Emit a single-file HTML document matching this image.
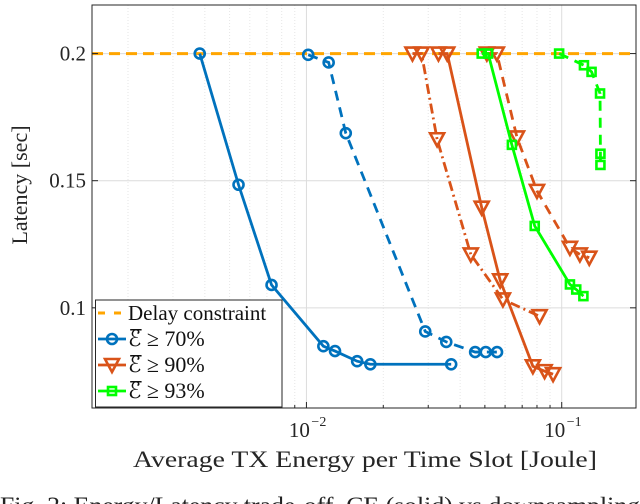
<!DOCTYPE html>
<html><head><meta charset="utf-8"><style>
body{margin:0;background:#fff;}
svg{display:block;font-family:"Liberation Serif",serif;}
</style></head><body>
<svg id="chart" width="640" height="504" viewBox="0 0 640 504">
<rect x="0" y="0" width="640" height="504" fill="#fff"/>
<g id="grid"></g>
<g id="series"></g>
<rect x="92" y="5" width="544" height="403" fill="none" stroke="#262626" stroke-width="1"/>
<g id="ticks"></g>
<text x="27" y="185" transform="rotate(-90 27 185)" text-anchor="middle" font-size="22" fill="#262626">Latency [sec]</text>
<text x="133" y="467" textLength="464" lengthAdjust="spacingAndGlyphs" font-size="23" fill="#262626">Average TX Energy per Time Slot [Joule]</text>
<text x="0" y="513" textLength="640" lengthAdjust="spacingAndGlyphs" font-size="23" fill="#222">Fig. 2: Energy/Latency trade-off, CE (solid) vs downsampling</text>
<g id="legend"></g>
</svg>
<script>
const NS='http://www.w3.org/2000/svg';
const xLog=[-2.84,-0.709];
const yLim=[0.0606,0.2191];
const yTicks=[0.1,0.15,0.2];
const yTickLabels=['0.1','0.15','0.2'];
const xTicks=[-2,-1];
const xTickLabels=['10','10'];
const xTickExps=['−2','−1'];
const constraint=0.2;
const blueSolidX=[0.00382,0.00542,0.0073,0.01165,0.01294,0.0158,0.0178,0.0369];
const blueSolidY=[0.2,0.1484,0.109,0.0849,0.083,0.079,0.0778,0.0778];
const blueDashX=[0.01016,0.01222,0.01426,0.0292,0.0353,0.0458,0.0504,0.0558];
const blueDashY=[0.1995,0.1965,0.1687,0.0907,0.0866,0.0826,0.0826,0.0826];
const orangeSolidX=[0.0329,0.0356,0.0486,0.0574,0.0771,0.0857,0.0925];
const orangeSolidY=[0.2,0.2,0.1394,0.1108,0.077,0.0751,0.0739];
const orangeDashX=[0.0509,0.0557,0.0668,0.08,0.1077,0.1178,0.1282];
const orangeDashY=[0.2,0.2,0.167,0.146,0.1236,0.121,0.1197];
const orangeDotX=[0.02602,0.02824,0.0325,0.04404,0.05884,0.0819];
const orangeDotY=[0.2,0.2,0.1663,0.121,0.1033,0.0967];
const greenSolidX=[0.0486,0.0515,0.0638,0.0784,0.1077,0.114,0.1216];
const greenSolidY=[0.2,0.2,0.1641,0.1322,0.1092,0.1072,0.1046];
const greenDashX=[0.0977,0.1222,0.1309,0.1413,0.1418,0.1418];
const greenDashY=[0.2,0.1954,0.1928,0.1843,0.1606,0.1562];

const L=92,R=636,T=5,B=408;
function sx(v){return L+(Math.log10(v)-xLog[0])/(xLog[1]-xLog[0])*(R-L);}
function sxl(lg){return L+(lg-xLog[0])/(xLog[1]-xLog[0])*(R-L);}
function sy(v){return B-(v-yLim[0])/(yLim[1]-yLim[0])*(B-T);}
function mk(tag,at,parent){const e=document.createElementNS(NS,tag);for(const k in at)e.setAttribute(k,at[k]);parent.appendChild(e);return e;}
const grid=document.getElementById('grid'),ticks=document.getElementById('ticks'),ser=document.getElementById('series'),leg=document.getElementById('legend');
for(let d=-3;d<=-1;d++){for(let m=1;m<=9;m++){const lg=d+Math.log10(m);if(lg<xLog[0]||lg>xLog[1])continue;const x=sxl(lg);
 const major=(m===1);
 const g=mk('line',{x1:x,x2:x,y1:T,y2:B,stroke:major?'#dcdcdc':'#e6e6e6','stroke-width':1,'stroke-dasharray':major?'':'1,2'},grid);
 
 
 const t=mk('line',{x1:x,x2:x,y1:B,y2:B-(major?6:3),stroke:'#262626'},ticks);
 
 
}}
yTicks.forEach((v,i)=>{const y=sy(v);
 const g=mk('line',{x1:L,x2:R,y1:y,y2:y,stroke:'#dcdcdc'},grid);
 
 
 mk('line',{x1:L,x2:L+6,y1:y,y2:y,stroke:'#262626'},ticks);
 mk('line',{x1:R,x2:R-6,y1:y,y2:y,stroke:'#262626'},ticks);
 const t=mk('text',{x:L-6,y:y+7,'text-anchor':'end','font-size':21,fill:'#262626'},ticks);t.textContent=yTickLabels[i];
 
 
});
xTicks.forEach((lg,i)=>{const x=sxl(lg);
 const t=mk('text',{x:x-7,y:437,'text-anchor':'middle','font-size':21,fill:'#262626'},ticks);t.textContent=xTickLabels[i];
 
 
 const e=mk('text',{x:x+5,y:426,'font-size':14,fill:'#262626'},ticks);e.textContent=xTickExps[i];
 
 
});
const cl=mk('line',{x1:L,x2:R,y1:sy(constraint),y2:sy(constraint),stroke:'#FFA500','stroke-width':3,'stroke-dasharray':'11,6'},ser);


function marker(type,x,y,c,p){
 if(type==='o')return mk('circle',{cx:x,cy:y,r:5,fill:'none',stroke:c,'stroke-width':2.6},p);
 if(type==='v')return mk('polygon',{points:`${x-7},${y-6} ${x+7},${y-6} ${x},${y+7}`,fill:'none',stroke:c,'stroke-width':2.6},p);
 return mk('rect',{x:x-4,y:y-4,width:8,height:8,fill:'none',stroke:c,'stroke-width':2.6},p);
}
function series(xs,ys,c,dash,type,name){
 const g=mk('g',{},ser);
 
 
 const pts=xs.map((v,i)=>sx(v)+','+sy(ys[i])).join(' ');
 mk('polyline',{points:pts,fill:'none',stroke:c,'stroke-width':2.8,'stroke-dasharray':dash},g);
 xs.forEach((v,i)=>{const m=marker(type,sx(v),sy(ys[i]),c,g);
  
  });
}
const BL='#0072BD',OR='#D95319',GR='#00FF00';
series(blueSolidX,blueSolidY,BL,'','o','blue-solid-series');
series(blueDashX,blueDashY,BL,'10,7','o','blue-dashed-series');
series(orangeSolidX,orangeSolidY,OR,'','v','orange-solid-series');
series(orangeDashX,orangeDashY,OR,'10,7','v','orange-dashed-series');
series(orangeDotX,orangeDotY,OR,'10,4,2,4','v','orange-dashdot-series');
series(greenSolidX,greenSolidY,GR,'','s','green-solid-series');
series(greenDashX,greenDashY,GR,'10,7','s','green-dashed-series');
const lb=mk('rect',{x:95.5,y:300,width:186.5,height:107,fill:'#fff',stroke:'#262626','stroke-width':1},leg);


const entries=[['Delay constraint','#FFA500','-'],['70%',BL,'o'],['90%',OR,'v'],['93%',GR,'s']];
entries.forEach((e,i)=>{const y=313+i*26;
 const g=mk('g',{},leg);
 
 
 if(e[2]==='-'){mk('line',{x1:98,x2:126,y1:y,y2:y,stroke:e[1],'stroke-width':3,'stroke-dasharray':'7,9'},g);}
 else{mk('line',{x1:98,x2:126,y1:y,y2:y,stroke:e[1],'stroke-width':2.8},g);marker(e[2],112,y,e[1],g);}
 const t=mk('text',{x:128,y:y+7,'font-size':e[2]==='-'?21:22,fill:'#111'},g);
 if(e[2]==='-')t.textContent=e[0];
 else{t.textContent='\u2130\u0305 \u2265 '+e[0];}
});
</script>
</body></html>
